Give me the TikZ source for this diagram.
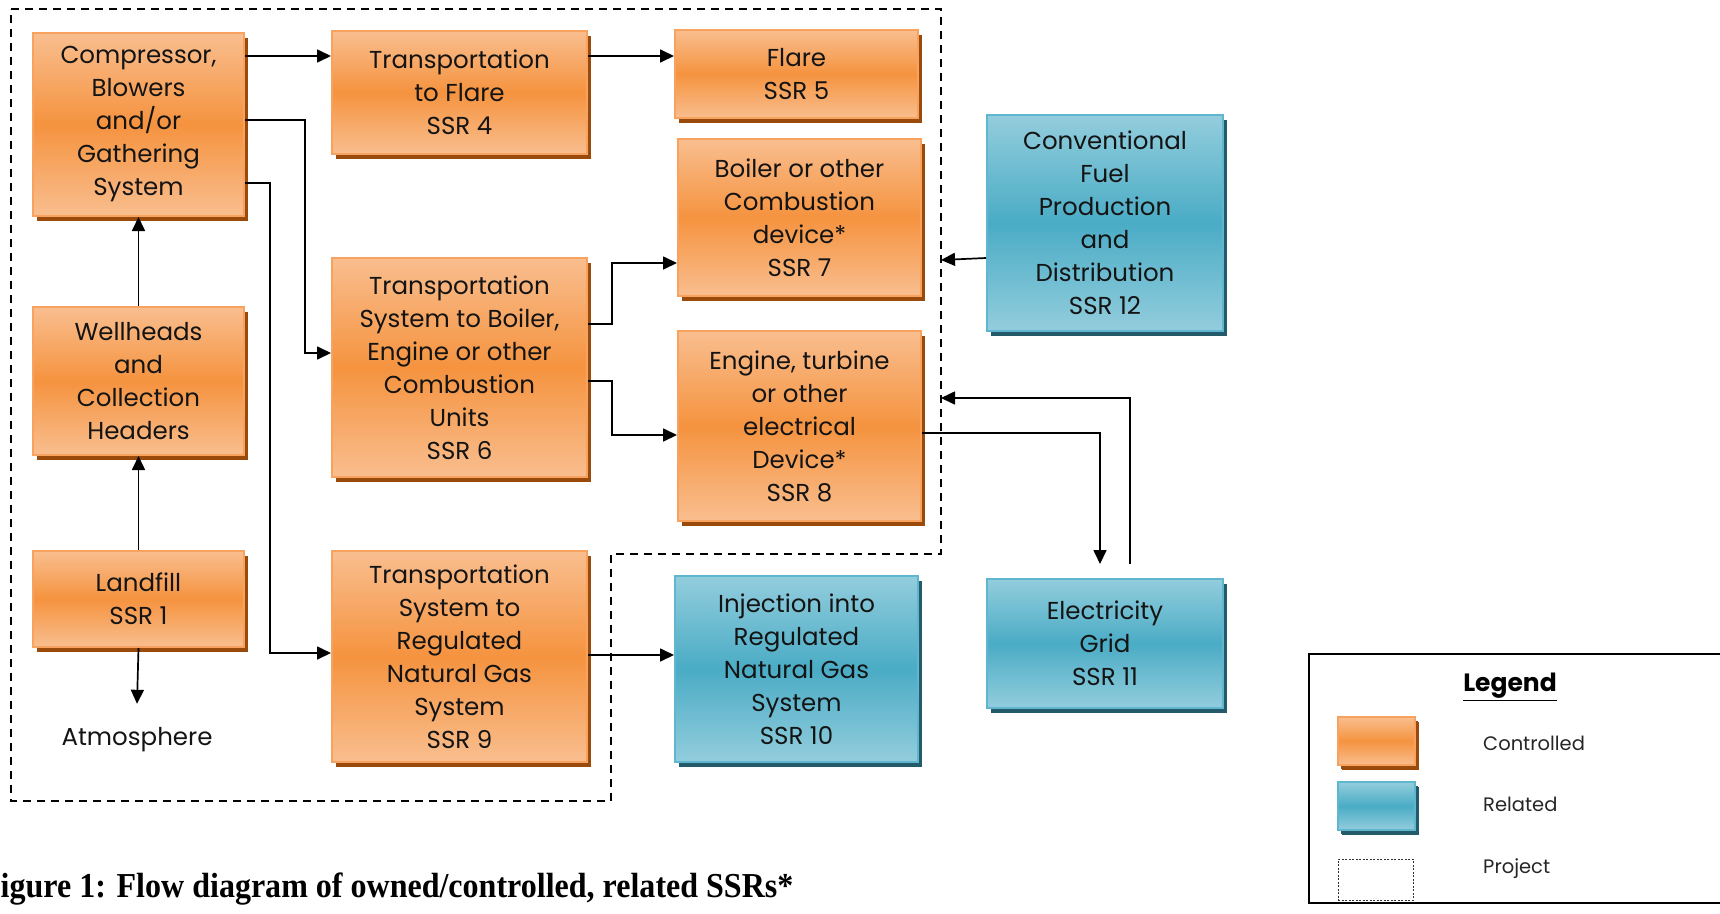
\documentclass[tikz,border=0pt]{standalone}
\usepackage{fontspec}
\setmainfont{Poppins}
\newfontfamily\capfont{Liberation Serif}
\usetikzlibrary{arrows.meta,shadows,calc}
\definecolor{orL}{HTML}{F9BE8F}
\definecolor{orD}{HTML}{F5933F}
\definecolor{orB}{HTML}{F7A25E}
\definecolor{orS}{HTML}{9A4A0A}
\definecolor{blL}{HTML}{93CDDD}
\definecolor{blD}{HTML}{4AACC5}
\definecolor{blB}{HTML}{5FB6CE}
\definecolor{blS}{HTML}{235B6B}
\begin{document}
\begin{tikzpicture}[x=1pt,y=-1pt,
 sz/.style 2 args={minimum width=#1pt, minimum height=#2pt},
 box/.style={draw, line width=2pt, align=center, inner sep=0pt, font=\fontsize{24.5}{33}\selectfont, text=black!92},
 ctrl/.style={box, draw=orB, top color=orL, bottom color=orL, middle color=orD,
   drop shadow={shadow xshift=4pt, shadow yshift=-5pt, fill=orS, opacity=1}},
 rel/.style={box, draw=blB, top color=blL, bottom color=blL, middle color=blD,
   drop shadow={shadow xshift=4pt, shadow yshift=-5pt, fill=blS, opacity=1}},
 arr/.style={line width=1.7pt, -{Triangle[length=14pt,width=13pt]}},
 proj/.style={line width=1.6pt, dash pattern=on 8pt off 6pt},
 lgtext/.style={anchor=west, inner sep=0pt, font=\fontsize{19.5}{22}\selectfont, text=black!85}]
\useasboundingbox[fill=white] (0,0) rectangle (1720,913);

% project boundary
\draw[proj] (11,9) -- (941,9) -- (941,554) -- (611,554) -- (611,801) -- (11,801) -- cycle;

% boxes
\node[ctrl, sz={211}{183}] (comp) at (138.5,124.5) {Compressor,\\Blowers\\and/or\\Gathering\\System};
\node[ctrl, sz={255}{123}] (ssr4) at (459.5,92.5) {Transportation\\to Flare\\SSR 4};
\node[ctrl, sz={243}{88}] (ssr5) at (796.5,74) {Flare\\SSR 5};
\node[ctrl, sz={243}{157}] (ssr7) at (799.5,217.5) {Boiler or other\\Combustion\\device*\\SSR 7};
\node[rel, sz={236}{216}] (ssr12) at (1105,223) {Conventional\\Fuel\\Production\\and\\Distribution\\SSR 12};
\node[ctrl, sz={211}{148}] (well) at (138.5,381) {Wellheads\\and\\Collection\\Headers};
\node[ctrl, sz={255}{219}] (ssr6) at (459.5,367.5) {Transportation\\System to Boiler,\\Engine or other\\Combustion\\Units\\SSR 6};
\node[ctrl, sz={243}{190}] (ssr8) at (799.5,426) {Engine, turbine\\or other\\electrical\\Device*\\SSR 8};
\node[ctrl, sz={211}{96}] (land) at (138.5,599) {Landfill\\SSR 1};
\node[ctrl, sz={255}{211}] (ssr9) at (459.5,656.5) {Transportation\\System to\\Regulated\\Natural Gas\\System\\SSR 9};
\node[rel, sz={243}{186}] (ssr10) at (796.5,669) {Injection into\\Regulated\\Natural Gas\\System\\SSR 10};
\node[rel, sz={236}{129}] (ssr11) at (1105,643.5) {Electricity\\Grid\\SSR 11};
\node[inner sep=0pt, minimum height=72pt, font=\fontsize{24.5}{33}\selectfont, text=black!92] (atm) at (137,740) {Atmosphere};

\coordinate (pe1) at (941,260);
\coordinate (pe2) at (941,398);

% connectors
\draw[arr] ($(comp.north east)+(0,24)$) coordinate (a1) -- (a1 -| ssr4.west);
\draw[arr] ($(ssr4.north east)+(0,26)$) coordinate (a2) -- (a2 -| ssr5.west);
\draw[arr] ($(comp.north east)+(0,88)$) -- ++(60,0) |- ($(ssr6.west)+(0,-14.5)$);
\draw[arr] ($(comp.north east)+(0,151)$) -- ++(25,0) |- ($(ssr9.west)+(0,-3.5)$);
\draw[arr] (well.north) -- (comp.south);
\draw[arr] (land.north) -- (well.south);
\draw[arr] (land.south) -- (atm.north);
\draw[arr] ($(ssr6.east)+(0,-43.5)$) -- ++(24,0) |- ($(ssr7.west)+(0,45.5)$);
\draw[arr] ($(ssr6.east)+(0,13.5)$) -- ++(24,0) |- ($(ssr8.west)+(0,9)$);
\draw[arr] ($(ssr12.west)+(0,35)$) -- (pe1);
\draw[arr] ($(ssr8.east)+(0,7)$) -| ($(ssr11.north)+(-5,-14)$);
\draw[arr] ($(ssr11.north)+(25,-14)$) |- (pe2);
\draw[arr] ($(ssr9.east)+(0,-1.5)$) coordinate (a3) -- (a3 -| ssr10.west);

% legend
\draw[line width=2pt] (1730,654) -- (1309,654) -- (1309,903) -- (1730,903);
\node[inner sep=0pt, font=\bfseries\fontsize{25}{28}\selectfont] (lgt) at (1510,687) {\underline{Legend}};
\node[ctrl, line width=1.5pt, sz={77}{48}, drop shadow={shadow xshift=3pt, shadow yshift=-4pt, fill=orS, opacity=1}] (lg1) at (1376.5,741) {};
\node[rel, line width=1.5pt, sz={77}{48}, drop shadow={shadow xshift=3pt, shadow yshift=-4pt, fill=blS, opacity=1}] (lg2) at (1376.5,806) {};
\node[draw=black!80, line width=0.8pt, dash pattern=on 2pt off 1.5pt, sz={75}{41}, inner sep=0pt] (lg3) at (1375.5,879.5) {};
\node[lgtext] (lt1) at (1483,743) {Controlled};
\node[lgtext] (lt2) at (1483,804) {Related};
\node[lgtext] (lt3) at (1483,869) {Project};

% caption
\node[anchor=base west, inner sep=0pt, xscale=0.915, font=\capfont\bfseries\fontsize{35}{38}\selectfont] (cap) at (-19,897) {Figure 1: Flow diagram of owned/controlled, related SSRs*};
\end{tikzpicture}
\end{document}
